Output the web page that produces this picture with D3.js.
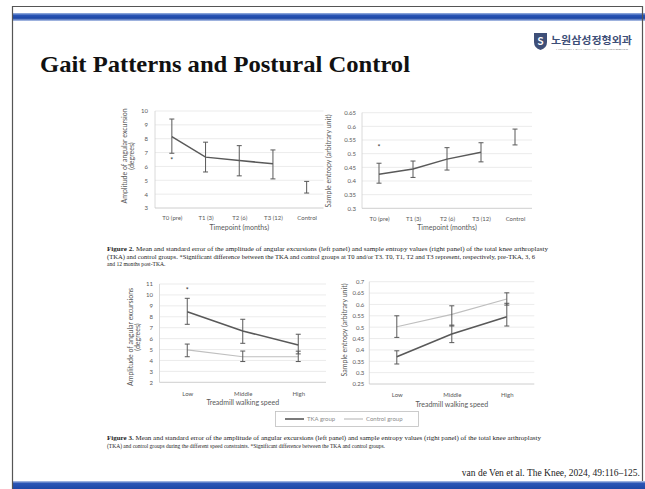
<!DOCTYPE html>
<html><head><meta charset="utf-8">
<script src="https://cdn.jsdelivr.net/npm/d3@7"></script>
<style>html,body{margin:0;padding:0;background:#fff;}svg{display:block;}</style>
</head><body>
<svg id="slide" width="645" height="489"></svg>
<script>
// ---------- DATA ----------
const timepoints = ["T0 (pre)", "T1 (3)", "T2 (6)", "T3 (12)", "Control"];
const ampTimeMean  = [8.15, 6.67, 6.43, 6.19, 4.5];
const ampTimeUpper = [9.42, 7.75, 7.5, 7.19, 4.92];
const ampTimeLower = [6.95, 5.6, 5.32, 5.1, 4.08];
const ampTimeTicks = [3, 4, 5, 6, 7, 8, 9, 10];

const entTimeMean  = [0.425, 0.444, 0.48, 0.505, 0.56];
const entTimeUpper = [0.465, 0.473, 0.522, 0.54, 0.59];
const entTimeLower = [0.392, 0.413, 0.44, 0.47, 0.532];
const entTimeTicks = [0.3, 0.35, 0.4, 0.45, 0.5, 0.55, 0.6, 0.65];

const speeds = ["Low", "Middle", "High"];
const ampSpeedTKAMean   = [8.46, 6.7, 5.42];
const ampSpeedTKAUpper  = [9.69, 7.77, 6.4];
const ampSpeedTKALower  = [7.31, 5.57, 4.6];
const ampSpeedCtrlMean  = [4.96, 4.34, 4.34];
const ampSpeedCtrlUpper = [5.5, 4.86, 4.85];
const ampSpeedCtrlLower = [4.34, 3.9, 3.9];
const ampSpeedTicks = [2, 3, 4, 5, 6, 7, 8, 9, 10, 11];

const entSpeedTKAMean   = [0.37, 0.47, 0.546];
const entSpeedTKAUpper  = [0.396, 0.509, 0.605];
const entSpeedTKALower  = [0.338, 0.432, 0.505];
const entSpeedCtrlMean  = [0.502, 0.556, 0.624];
const entSpeedCtrlUpper = [0.55, 0.594, 0.651];
const entSpeedCtrlLower = [0.455, 0.505, 0.597];
const entSpeedTicks = [0.25, 0.3, 0.35, 0.4, 0.45, 0.5, 0.55, 0.6, 0.65, 0.7];

const legendLabels = ["TKA group", "Control group"];
const fig2Caption = [
  "Mean and standard error of the amplitude of angular excursions (left panel) and sample entropy values (right panel) of the total knee arthroplasty",
  "(TKA) and control groups. *Significant difference between the TKA and control groups at T0 and/or T3. T0, T1, T2 and T3 represent, respectively, pre-TKA, 3, 6",
  "and 12 months post-TKA."
];
const fig3Caption = [
  "Mean and standard error of the amplitude of angular excursions (left panel) and sample entropy values (right panel) of the total knee arthroplasty",
  "(TKA) and control groups during the different speed constraints. *Significant difference between the TKA and control groups."
];

// ---------- SLIDE ----------
const svg = d3.select("#slide");
const FONT = "Lato, 'Noto Sans', sans-serif";
const DARK = "#595959", LIGHT = "#bfbfbf", GRID = "#e3e3e3", TXT = "#595959";

const defs = svg.append("defs");
const g1 = defs.append("linearGradient").attr("id","topbar").attr("x1",0).attr("x2",0).attr("y1",0).attr("y2",1);
g1.append("stop").attr("offset","0%").attr("stop-color","#9fb6e2");
g1.append("stop").attr("offset","30%").attr("stop-color","#2a55b5");
g1.append("stop").attr("offset","65%").attr("stop-color","#1d47a6");
g1.append("stop").attr("offset","100%").attr("stop-color","#b9c9ea");
const g2 = defs.append("linearGradient").attr("id","botbar").attr("x1",0).attr("x2",0).attr("y1",0).attr("y2",1);
g2.append("stop").attr("offset","0%").attr("stop-color","#b9c9ea");
g2.append("stop").attr("offset","30%").attr("stop-color","#2a55b5");
g2.append("stop").attr("offset","100%").attr("stop-color","#1d47a6");

svg.append("rect").attr("x",0).attr("y",0).attr("width",645).attr("height",489).attr("fill","#fff");
svg.append("rect").attr("x",12).attr("y",13).attr("width",633).attr("height",8).attr("fill","url(#topbar)");
svg.append("rect").attr("x",12).attr("y",481).attr("width",633).attr("height",8).attr("fill","url(#botbar)");
svg.append("path").attr("d","M12.5,489 V6.5 H642.5 V481").attr("fill","none").attr("stroke","#555").attr("stroke-width",1.2);

svg.append("text").attr("x",40).attr("y",72).attr("font-family","'Liberation Serif', 'Times New Roman', serif")
  .attr("font-weight","bold").attr("font-size",23).attr("fill","#111").attr("textLength",370).attr("lengthAdjust","spacingAndGlyphs")
  .text("Gait Patterns and Postural Control");

// logo
const logo = svg.append("g");
logo.append("path").attr("d","M534,33 h13 v9 q0,6 -6.5,8 q-6.5,-2 -6.5,-8 z").attr("fill","#3e4f78");
logo.append("text").attr("x",540.5).attr("y",45).attr("text-anchor","middle").attr("font-family",FONT).attr("font-weight","bold")
  .attr("font-size",11).attr("fill","#fff").text("S");
logo.append("text").attr("x",551).attr("y",44).attr("font-family","'Noto Sans CJK KR', sans-serif").attr("font-weight","bold")
  .attr("font-size",10).attr("fill","#3e4f78").attr("textLength",81).attr("lengthAdjust","spacingAndGlyphs").text("노원삼성정형외과");
logo.append("text").attr("x",556).attr("y",50).attr("font-family",FONT).attr("font-size",2.6).attr("fill","#888")
  .attr("textLength",72).attr("lengthAdjust","spacingAndGlyphs").text("NOWON SAMSUNG ORTHOPEDICS");

// ---------- CHART HELPER ----------
function drawChart(cfg) {
  const g = svg.append("g");
  const x = d3.scalePoint().domain(cfg.cats).range([cfg.x0, cfg.x1]).padding(0.5);
  const y = d3.scaleLinear().domain([cfg.ticks[0], cfg.ticks[cfg.ticks.length-1]]).range([cfg.y0, cfg.y1]);
  // grid
  g.selectAll(".grid").data(cfg.ticks.slice(1)).join("line")
    .attr("x1",cfg.x0).attr("x2",cfg.x1).attr("y1",d=>y(d)).attr("y2",d=>y(d))
    .attr("stroke",GRID).attr("stroke-width",0.7);
  g.append("line").attr("x1",cfg.x0).attr("x2",cfg.x0).attr("y1",cfg.y1).attr("y2",cfg.y0).attr("stroke","#d0d0d0").attr("stroke-width",0.8);
  g.append("line").attr("x1",cfg.x0).attr("x2",cfg.x1).attr("y1",cfg.y0).attr("y2",cfg.y0).attr("stroke","#c8c8c8").attr("stroke-width",0.9);
  // axes
  const ya = g.append("g").attr("transform",`translate(${cfg.x0},0)`)
    .call(d3.axisLeft(y).tickValues(cfg.ticks).tickSize(0).tickPadding(cfg.tickPad || 6).tickFormat(cfg.fmt));
  ya.select(".domain").remove();
  ya.selectAll("text").attr("font-family",FONT).attr("font-size",6).attr("fill",TXT);
  const xa = g.append("g").attr("transform",`translate(0,${cfg.y0})`)
    .call(d3.axisBottom(x).tickSize(0).tickPadding(cfg.xPad || 7));
  xa.select(".domain").remove();
  xa.selectAll("text").attr("font-family",FONT).attr("font-size",6).attr("fill",TXT);
  // titles
  g.append("text").attr("x",(cfg.x0+cfg.x1)/2).attr("y",cfg.xTitleY).attr("text-anchor","middle")
    .attr("font-family",FONT).attr("font-size",7).attr("fill",TXT).text(cfg.xTitle);
  cfg.yTitle.forEach((t,i)=>{
    g.append("text").attr("transform",`translate(${cfg.yTitleX[i]},${cfg.yTitleY}) rotate(-90)`)
      .attr("text-anchor","middle").attr("dominant-baseline","central")
      .attr("font-family",FONT).attr("font-size",7).attr("fill",TXT).text(t);
  });
  // series
  cfg.series.forEach(s=>{
    const pts = s.mean.map((m,i)=>({c:cfg.cats[i], m, u:s.upper[i], l:s.lower[i]}));
    const linePts = pts.slice(0, s.lineCount || pts.length);
    g.append("path").datum(linePts)
      .attr("d", d3.line().x(d=>x(d.c)).y(d=>y(d.m)))
      .attr("fill","none").attr("stroke",s.color).attr("stroke-width",s.width);
    const eb = g.append("g");
    pts.forEach(p=>{
      const cx = x(p.c);
      eb.append("line").attr("x1",cx).attr("x2",cx).attr("y1",y(p.u)).attr("y2",y(p.l)).attr("stroke",DARK).attr("stroke-width",1);
      [p.u,p.l].forEach(v=>eb.append("line").attr("x1",cx-2.5).attr("x2",cx+2.5).attr("y1",y(v)).attr("y2",y(v)).attr("stroke",DARK).attr("stroke-width",1));
    });
  });
  (cfg.stars||[]).forEach(st=>{
    g.append("text").attr("x",x(st.c)).attr("y",y(st.v)+2.5).attr("text-anchor","middle")
      .attr("font-family",FONT).attr("font-size",7).attr("fill","#333").text("*");
  });
}

// Chart 1
drawChart({cats:timepoints, x0:155, x1:323.5, y0:208, y1:111, ticks:ampTimeTicks, fmt:d3.format("d"),
  series:[{mean:ampTimeMean, upper:ampTimeUpper, lower:ampTimeLower, color:DARK, width:1.5, lineCount:4}],
  xTitle:"Timepoint (months)", xTitleY:230, yTitle:["Amplitude of angular excursion","(degrees)"], yTitleX:[123.5,130.5], yTitleY:156,
  stars:[{c:"T0 (pre)", v:6.4}], tickPad:7, xPad:8});
// Chart 2
drawChart({cats:timepoints, x0:362, x1:532, y0:208.3, y1:112.7, ticks:entTimeTicks, fmt:d=>d3.format("")(+d.toFixed(2)),
  series:[{mean:entTimeMean, upper:entTimeUpper, lower:entTimeLower, color:DARK, width:1.5, lineCount:4}],
  xTitle:"Timepoint (months)", xTitleY:230, yTitle:["Sample entropy (arbitrary unit)"], yTitleX:[327.5], yTitleY:161,
  stars:[{c:"T0 (pre)", v:0.523}], tickPad:6, xPad:8});
// Chart 3
drawChart({cats:speeds, x0:159.5, x1:326, y0:382.3, y1:284, ticks:ampSpeedTicks, fmt:d3.format("d"),
  series:[{mean:ampSpeedCtrlMean, upper:ampSpeedCtrlUpper, lower:ampSpeedCtrlLower, color:LIGHT, width:1.2},
          {mean:ampSpeedTKAMean, upper:ampSpeedTKAUpper, lower:ampSpeedTKALower, color:DARK, width:1.6}],
  xTitle:"Treadmill walking speed", xTitleY:405, yTitle:["Amplitude of angular excursions","(degrees)"], yTitleX:[130,136.7], yTitleY:337,
  stars:[{c:"Low", v:10.45}], tickPad:6.5, xPad:9});
// Chart 4
drawChart({cats:speeds, x0:369.3, x1:534.3, y0:384, y1:281.7, ticks:entSpeedTicks, fmt:d=>d3.format("")(+d.toFixed(2)),
  series:[{mean:entSpeedCtrlMean, upper:entSpeedCtrlUpper, lower:entSpeedCtrlLower, color:LIGHT, width:1.2},
          {mean:entSpeedTKAMean, upper:entSpeedTKAUpper, lower:entSpeedTKALower, color:DARK, width:1.6}],
  xTitle:"Treadmill walking speed", xTitleY:407, yTitle:["Sample entropy (arbitrary unit)"], yTitleX:[343.5], yTitleY:330,
  tickPad:5, xPad:9});

// legend
const lg = svg.append("g");
lg.append("rect").attr("x",275.5).attr("y",411.5).attr("width",143).attr("height",15).attr("fill","#fff").attr("stroke","#bfbfbf").attr("stroke-width",0.8);
const legColors = [DARK, LIGHT], legW = [1.6, 1.2], legX = [285, 344];
legendLabels.forEach((t,i)=>{
  lg.append("line").attr("x1",legX[i]).attr("x2",legX[i]+19).attr("y1",419).attr("y2",419).attr("stroke",legColors[i]).attr("stroke-width",legW[i]);
  lg.append("text").attr("x",legX[i]+22).attr("y",421).attr("font-family",FONT).attr("font-size",6).attr("fill","#8c8c8c").text(t);
});

// captions
function caption(lines, label, y0, widths) {
  lines.forEach((t,i)=>{
    const tx = svg.append("text").attr("x",107).attr("y",y0+i*7.6).attr("font-family","'Liberation Serif', serif")
      .attr("font-size",5.6).attr("fill","#222");
    if (widths[i]) tx.attr("textLength",widths[i]).attr("lengthAdjust","spacingAndGlyphs");
    if (i===0) { tx.append("tspan").attr("font-weight","bold").text(label+" "); }
    tx.append("tspan").text(t);
  });
}
caption(fig2Caption, "Figure 2.", 251, [441, 428, 0]);
caption(fig3Caption, "Figure 3.", 440, [434, 278]);

svg.append("text").attr("x",640).attr("y",476).attr("text-anchor","end").attr("font-family","'Liberation Serif', serif")
  .attr("font-size",9.5).attr("fill","#222").text("van de Ven et al. The Knee, 2024, 49:116–125.");
</script>
</body></html>
